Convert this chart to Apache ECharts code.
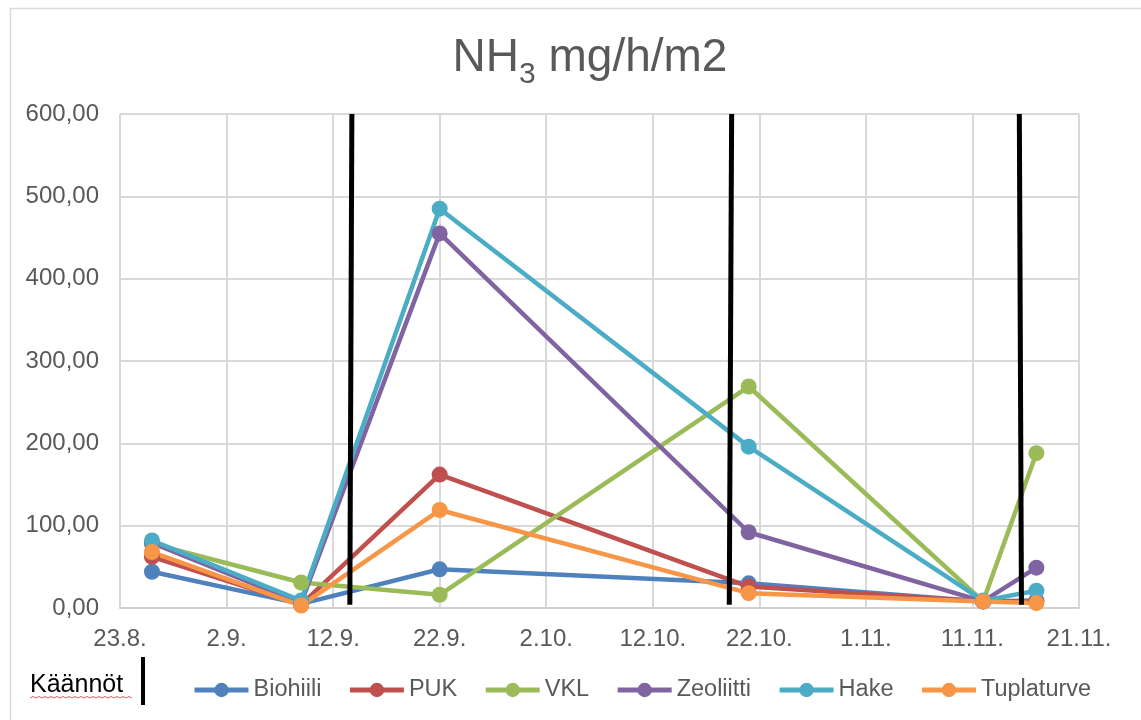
<!DOCTYPE html>
<html>
<head>
<meta charset="utf-8">
<script src="https://cdn.jsdelivr.net/npm/echarts@6/dist/echarts.min.js"></script>
<style>
html,body{margin:0;padding:0;background:#fff;}
#chart{width:1141px;height:720px;}
</style>
</head>
<body>
<div id="chart"></div>
<script>
// ---- data ----
const axisStart = '2019-08-23';
const axisDays = 90;
const sampleDates = ['2019-08-26', '2019-09-09', '2019-09-22', '2019-10-21', '2019-11-12', '2019-11-17'];
const seriesNames = ['Biohiili', 'PUK', 'VKL', 'Zeoliitti', 'Hake', 'Tuplaturve'];
const biohiili   = [44, 5, 47, 30, 8, 9];
const puk        = [62, 4, 162, 26, 8, 8];
const vkl        = [78, 31, 16, 269, 8, 188];
const zeoliitti  = [79, 6, 455, 92, 8, 49];
const hake       = [82, 9, 485, 196, 9, 21];
const tuplaturve = [68, 3, 119, 18, 8, 6];
// turning points (Käännöt), hand-drawn lines: day offset at top and at bottom
const kaannotTop    = [21.76, 57.4, 84.4];
const kaannotBottom = [21.57, 57.18, 84.6];
const kaannotYTop = 600;
const kaannotYBottom = 4;
const yTicks = {min: 0, max: 600, interval: 100};

const colors = ['#4F81BD', '#C0504D', '#9BBB59', '#8064A2', '#4BACC6', '#F79646'];
const FONT = '"Liberation Sans", Arial, sans-serif';
const DAY = 86400000;
const startMs = Date.parse(axisStart + 'T00:00:00Z');
const offsets = sampleDates.map(d => Math.round((Date.parse(d + 'T00:00:00Z') - startMs) / DAY));
const allValues = [biohiili, puk, vkl, zeoliitti, hake, tuplaturve];

function dateLabel(v) {
  const d = new Date(startMs + v * DAY);
  return d.getUTCDate() + '.' + (d.getUTCMonth() + 1) + '.';
}

const series = seriesNames.map((name, i) => ({
  name: name,
  type: 'line',
  data: offsets.map((x, j) => [x, allValues[i][j]]),
  symbol: 'circle',
  symbolSize: 16,
  lineStyle: {width: 4.5, color: colors[i]},
  itemStyle: {color: colors[i], borderWidth: 0},
  emphasis: {disabled: true},
  animation: false
}));

series[series.length - 1].markLine = {
  silent: true,
  symbol: ['none', 'none'],
  label: {show: false},
  lineStyle: {color: '#000', width: 5, type: 'solid'},
  emphasis: {disabled: true},
  animation: false,
  data: kaannotTop.map((t, i) => [
    {coord: [t, kaannotYTop]},
    {coord: [kaannotBottom[i], kaannotYBottom]}
  ])
};

const chart = echarts.init(document.getElementById('chart'), null, {renderer: 'canvas'});
chart.setOption({
  backgroundColor: '#fff',
  color: colors,
  animation: false,
  title: {
    text: '{a|NH}{b|3}{a| mg/h/m2}',
    left: 590,
    textAlign: 'center',
    top: 26,
    padding: 0,
    textStyle: {
      rich: {
        a: {fontSize: 46, fontWeight: 'normal', lineHeight: 64, color: '#595959', fontFamily: FONT},
        b: {fontSize: 30, fontWeight: 'normal', verticalAlign: 'bottom', color: '#595959', fontFamily: FONT}
      }
    }
  },
  grid: {left: 120, right: 62, top: 114, bottom: 112, containLabel: false},
  xAxis: {
    type: 'value',
    min: 0,
    max: axisDays,
    interval: 10,
    axisLine: {show: true, lineStyle: {color: '#d0d0d0', width: 2}},
    axisTick: {show: false},
    splitLine: {show: true, lineStyle: {color: '#d9d9d9', width: 2}},
    axisLabel: {formatter: dateLabel, color: '#595959', fontSize: 24, fontFamily: FONT, margin: 19}
  },
  yAxis: {
    type: 'value',
    min: yTicks.min,
    max: yTicks.max,
    interval: yTicks.interval,
    axisLine: {show: false},
    axisTick: {show: false},
    splitLine: {show: true, lineStyle: {color: '#d9d9d9', width: 2}},
    axisLabel: {
      formatter: v => v.toFixed(2).replace('.', ','),
      color: '#595959', fontSize: 24, fontFamily: FONT, margin: 21,
      padding: [7, 0, 0, 0]
    }
  },
  legend: {
    data: seriesNames,
    left: 192,
    top: 678,
    padding: 0,
    itemWidth: 54,
    itemHeight: 18,
    itemGap: 26,
    selectedMode: false,
    lineStyle: {width: 5},
    textStyle: {color: '#595959', fontSize: 23.5, fontFamily: FONT}
  },
  graphic: [
    {type: 'rect', left: 8, top: 6, shape: {width: 1300, height: 900}, style: {fill: 'none', stroke: '#d9d9d9', lineWidth: 1.5}, silent: true, z: -10},
    {type: 'text', left: 30, top: 673, style: {text: 'Käännöt', fontSize: 25, fill: '#000', fontFamily: FONT}},
    {type: 'line', shape: {x1: 143, y1: 657, x2: 143, y2: 705}, style: {stroke: '#000', lineWidth: 4}},
    {type: 'polyline', shape: {points: [[30,698],[33,696.5],[36,698],[39,696.5],[42,698],[45,696.5],[48,698],[51,696.5],[54,698],[57,696.5],[60,698],[63,696.5],[66,698],[69,696.5],[72,698],[75,696.5],[78,698],[81,696.5],[84,698],[87,696.5],[90,698],[93,696.5],[96,698],[99,696.5],[102,698],[105,696.5],[108,698],[111,696.5],[114,698],[117,696.5],[120,698],[123,696.5],[126,698],[129,696.5],[132,698]]}, style: {stroke: '#e06060', lineWidth: 1, fill: 'none'}}
  ],
  series: series
});
</script>
</body>
</html>
